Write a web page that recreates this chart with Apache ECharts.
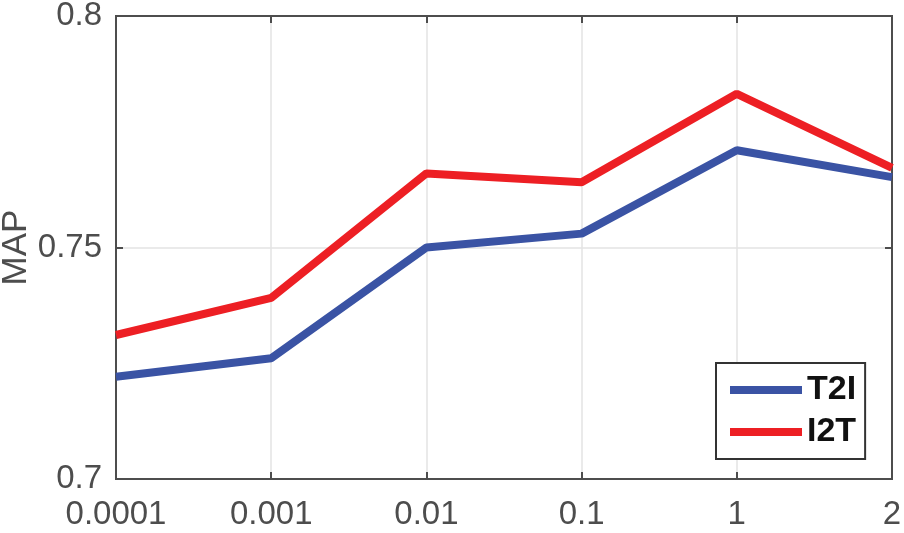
<!DOCTYPE html>
<html>
<head>
<meta charset="utf-8">
<script src="https://cdn.jsdelivr.net/npm/echarts@6/dist/echarts.min.js"></script>
<style>
html,body{margin:0;padding:0;background:#fff;}
#chart{width:904px;height:533px;}
</style>
</head>
<body>
<div id="chart"></div>
<script>
const categories = ['0.0001', '0.001', '0.01', '0.1', '1', '2'];
const t2i = [0.7221, 0.7261, 0.7500, 0.7530, 0.7710, 0.7652];
const i2t = [0.7311, 0.7391, 0.7660, 0.7641, 0.7832, 0.7672];
const yTicks = { min: 0.7, max: 0.8, interval: 0.05 };

const axisColor = '#4d4d4d';
const gridColor = '#e3e3e3';
const font = 'Liberation Sans, Arial, Helvetica, sans-serif';

const chart = echarts.init(document.getElementById('chart'), null, { renderer: 'canvas' });
chart.setOption({
  animation: false,
  backgroundColor: '#fff',
  grid: {
    left: 116, right: 12, top: 16, bottom: 54,
    outerBoundsMode: 'none',
    containLabel: false,
    show: true, borderColor: axisColor, borderWidth: 2, backgroundColor: 'transparent'
  },
  legend: {
    left: 716, top: 363,
    orient: 'vertical',
    data: ['T2I', 'I2T'],
    icon: 'rect',
    itemWidth: 72, itemHeight: 8,
    itemGap: 8,
    itemTextGap: 8,
    padding: [10, 9, 10, 14],
    backgroundColor: '#fff',
    borderColor: '#333',
    borderWidth: 2,
    textStyle: { fontFamily: font, fontSize: 34, fontWeight: 'bold', color: '#111' },
    selectedMode: false
  },
  xAxis: [{
    type: 'category',
    data: categories,
    boundaryGap: false,
    axisLine: { show: true, lineStyle: { color: axisColor, width: 2 } },
    axisTick: { show: true, inside: true, length: 7, alignWithLabel: true, lineStyle: { color: axisColor, width: 2 } },
    axisLabel: { fontFamily: font, fontSize: 33, color: axisColor, margin: 19, showMinLabel: true, showMaxLabel: true, interval: 0, hideOverlap: false },
    splitLine: { show: true, lineStyle: { color: gridColor, width: 1.5 } }
  }, {
    type: 'category',
    data: categories,
    boundaryGap: false,
    position: 'top',
    axisLine: { show: true, lineStyle: { color: axisColor, width: 2 } },
    axisTick: { show: true, inside: true, length: 7, lineStyle: { color: axisColor, width: 2 } },
    axisLabel: { show: false },
    splitLine: { show: false }
  }],
  yAxis: [{
    type: 'value',
    min: yTicks.min, max: yTicks.max, interval: yTicks.interval,
    name: 'MAP',
    nameLocation: 'middle',
    nameRotate: 90,
    nameGap: 82,
    nameMoveOverlap: false,
    nameTextStyle: { fontFamily: font, fontSize: 35, color: axisColor },
    axisLine: { show: true, lineStyle: { color: axisColor, width: 2 } },
    axisTick: { show: true, inside: true, length: 7, lineStyle: { color: axisColor, width: 2 } },
    axisLabel: { fontFamily: font, fontSize: 33, color: axisColor, margin: 14 },
    splitLine: { show: true, lineStyle: { color: gridColor, width: 1.5 } }
  }, {
    type: 'value',
    min: yTicks.min, max: yTicks.max, interval: yTicks.interval,
    position: 'right',
    axisLine: { show: true, lineStyle: { color: axisColor, width: 2 } },
    axisTick: { show: true, inside: true, length: 7, lineStyle: { color: axisColor, width: 2 } },
    axisLabel: { show: false },
    splitLine: { show: false }
  }],
  series: [{
    name: 'T2I',
    type: 'line',
    data: t2i,
    symbol: 'none',
    lineStyle: { color: '#3a53a4', width: 8 },
    itemStyle: { color: '#3a53a4' },
    z: 3
  }, {
    name: 'I2T',
    type: 'line',
    data: i2t,
    symbol: 'none',
    lineStyle: { color: '#ed1f24', width: 8 },
    itemStyle: { color: '#ed1f24' },
    z: 4
  }]
});
</script>
</body>
</html>
